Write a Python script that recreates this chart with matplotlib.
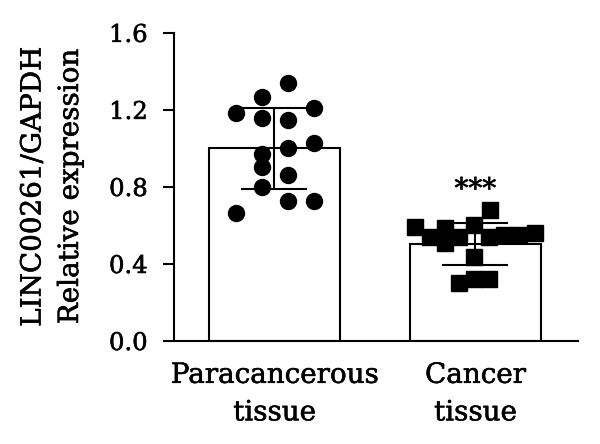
import numpy as np
import matplotlib
matplotlib.use("Agg")
import matplotlib.pyplot as plt
import matplotlib.patheffects as pe


groups = ["Paracancerous\ntissue", "Cancer\ntissue"]
means = [1.0, 0.504]
sds = [0.21, 0.11]

para_values = [1.339, 1.269, 1.183, 1.212, 1.157, 1.148, 1.030, 1.004,
               0.971, 0.905, 0.862, 0.802, 0.729, 0.729, 0.666]
para_jitter = [0.068, -0.064, -0.193, 0.195, -0.064, 0.068, 0.195, 0.068,
               -0.064, -0.064, 0.068, -0.064, 0.068, 0.195, -0.193]

cancer_values = [0.681, 0.594, 0.542, 0.587, 0.509, 0.542, 0.600, 0.438,
                 0.303, 0.320, 0.320, 0.542, 0.551, 0.551, 0.560]
cancer_jitter = [0.073, -0.300, -0.228, -0.153, -0.153, -0.080, -0.005, -0.005,
                 -0.079, -0.005, 0.069, 0.069, 0.144, 0.218, 0.296]


def main():
    plt.rcParams["font.family"] = "DejaVu Serif"
    # the original text is a bit heavier than DejaVu Serif Book
    heavy = [pe.withStroke(linewidth=0.4, foreground="black")]

    fig = plt.figure(figsize=(6, 4.44), dpi=100)
    ax = fig.add_axes([0.29, 0.232, 0.673, 0.694])

    x = np.arange(len(groups))

    ax.bar(x, means, width=0.65, color="white", edgecolor="black",
           linewidth=1.5, zorder=1)

    ax.errorbar(x, means, yerr=sds, fmt="none", ecolor="black",
                elinewidth=1.5, capsize=24, capthick=1.5, zorder=2)

    ax.plot(x[0] + np.array(para_jitter), para_values, "o", color="black",
            markersize=11.5, linestyle="none", zorder=3)
    ax.plot(x[1] + np.array(cancer_jitter), cancer_values, "s", color="black",
            markersize=11, linestyle="none", zorder=3)

    ax.text(x[1], means[1] + sds[1] + 0.1, "***", ha="center", va="bottom",
            fontsize=20, path_effects=heavy)

    ax.set_xlim(-0.5, 1.51)
    ax.set_ylim(0, 1.6)
    ax.set_yticks([0.0, 0.4, 0.8, 1.2, 1.6])
    ax.set_yticklabels(["0.0", "0.4", "0.8", "1.2", "1.6"])
    ax.set_xticks(x)
    ax.set_xticklabels(groups, fontsize=20, linespacing=1.5)

    ax.tick_params(axis="y", labelsize=17.5, width=1.5, length=8, pad=11)
    ax.tick_params(axis="x", length=0, pad=15)

    ax.set_ylabel("LINC00261/GAPDH\nRelative expression", fontsize=20,
                  labelpad=18, linespacing=1.5)

    for lbl in ax.get_xticklabels() + ax.get_yticklabels() + [ax.yaxis.label]:
        lbl.set_path_effects(heavy)

    ax.spines["top"].set_visible(False)
    ax.spines["right"].set_visible(False)
    ax.spines["left"].set_linewidth(1.5)
    ax.spines["bottom"].set_linewidth(1.5)

    fig.savefig("out.png", dpi=100)


if __name__ == "__main__":
    main()
